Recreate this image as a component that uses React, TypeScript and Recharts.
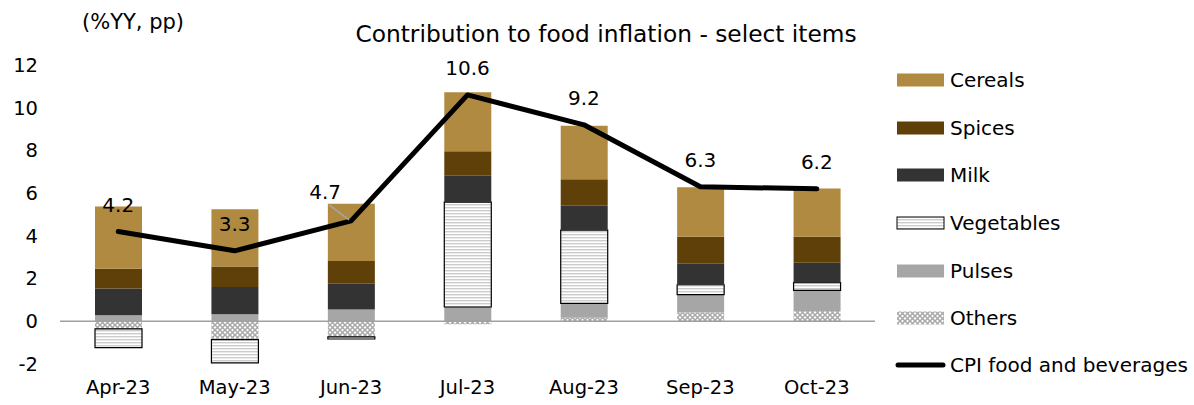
import React from 'react';
import { ComposedChart, Bar, Line, XAxis, YAxis, ReferenceLine, LabelList } from 'recharts';

const months = ['Apr-23', 'May-23', 'Jun-23', 'Jul-23', 'Aug-23', 'Sep-23', 'Oct-23'];
const cereals = [2.91, 2.68, 2.68, 2.76, 2.51, 2.32, 2.26];
const spices = [0.93, 0.97, 1.06, 1.15, 1.24, 1.27, 1.22];
const milk = [1.25, 1.27, 1.21, 1.23, 1.14, 0.98, 0.93];
const vegetables = [-0.87, -1.09, -0.1, 4.91, 3.43, 0.46, 0.36];
const pulses = [0.28, 0.33, 0.55, 0.67, 0.67, 0.84, 0.97];
const others = [-0.36, -0.86, -0.73, -0.14, 0.17, 0.41, 0.48];
const cpi = [4.2, 3.3, 4.7, 10.6, 9.2, 6.3, 6.2];
const yTicks = [-2, 0, 2, 4, 6, 8, 10, 12];

const data = months.map((m, i) => ({
  month: m,
  cereals: cereals[i],
  spices: spices[i],
  milk: milk[i],
  vegetables: vegetables[i],
  pulses: pulses[i],
  others: others[i],
  cpi: cpi[i],
}));

const FONT = "'DejaVu Sans', sans-serif";
const FS = 19.5;

const C_CEREALS = '#AF8A40';
const C_SPICES = '#5E4008';
const C_MILK = '#333333';
const C_PULSES = '#A6A6A6';

const CpiLabel = (props: any) => {
  const { x, y, value, index } = props;
  if (index === 2) {
    return (
      <g>
        <line x1={x - 22} y1={y - 16} x2={x - 2} y2={y - 1} stroke="#A6A6A6" strokeWidth={1.5} />
        <text x={x - 26} y={y - 29} textAnchor="middle" dominantBaseline="central" fontFamily={FONT} fontSize={20} fill="#000">
          {value}
        </text>
      </g>
    );
  }
  return (
    <text x={x} y={y - 27} textAnchor="middle" dominantBaseline="central" fontFamily={FONT} fontSize={20} fill="#000">
      {value}
    </text>
  );
};

const legendItems = [
  { name: 'Cereals', kind: 'fill', color: C_CEREALS },
  { name: 'Spices', kind: 'fill', color: C_SPICES },
  { name: 'Milk', kind: 'fill', color: C_MILK },
  { name: 'Vegetables', kind: 'veg', color: '' },
  { name: 'Pulses', kind: 'fill', color: C_PULSES },
  { name: 'Others', kind: 'oth', color: '' },
  { name: 'CPI food and beverages', kind: 'line', color: '#000' },
];
const legendY = [80, 128, 175, 223, 271, 318, 365];

const Patterns = ({ p }: { p: string }) => (
  <defs>
    <pattern id={p + 'veg'} width="6" height="3" patternUnits="userSpaceOnUse">
      <rect width="6" height="3" fill="#ffffff" />
      <rect y="0" width="6" height="1.4" fill="#cccccc" />
    </pattern>
    <pattern id={p + 'oth'} width="5" height="5" patternUnits="userSpaceOnUse">
      <rect width="5" height="5" fill="#ffffff" />
      <path d="M0,0 L5,5 M5,0 L0,5" stroke="#a8a8a8" strokeWidth="1.5" />
    </pattern>
  </defs>
);

export default function App() {
  return (
    <div style={{ position: 'absolute', left: 0, top: 0, width: 1194, height: 405, background: '#fff', fontFamily: FONT }}>
      <div style={{ position: 'absolute', left: 82, top: 22, transform: 'translateY(-50%)', fontSize: 21, whiteSpace: 'nowrap' }}>
        (%YY, pp)
      </div>
      <div style={{ position: 'absolute', left: 606, top: 33, transform: 'translate(-50%,-50%)', fontSize: 23.3, whiteSpace: 'nowrap' }}>
        Contribution to food inflation - select items
      </div>
      <ComposedChart
        width={1194}
        height={405}
        data={data}
        stackOffset="sign"
        margin={{ top: 65, right: 319, bottom: 0, left: 0 }}
      >
        <Patterns p="c" />
        <XAxis
          dataKey="month"
          axisLine={false}
          tickLine={false}
          height={41}
          tickMargin={10}
          tick={{ fontFamily: FONT, fontSize: FS, fill: '#000' }}
          interval={0}
        />
        <YAxis
          domain={[-2, 12]}
          ticks={yTicks}
          width={60}
          axisLine={false}
          tickLine={false}
          tickMargin={16}
          tick={{ fontFamily: FONT, fontSize: FS, fill: '#000' }}
        />
        <Bar dataKey="others" stackId="a" fill="url(#coth)" barSize={47} isAnimationActive={false} />
        <Bar dataKey="pulses" stackId="a" fill={C_PULSES} barSize={47} isAnimationActive={false} />
        <Bar dataKey="vegetables" stackId="a" fill="url(#cveg)" stroke="#000" strokeWidth={1.2} barSize={47} isAnimationActive={false} />
        <Bar dataKey="milk" stackId="a" fill={C_MILK} barSize={47} isAnimationActive={false} />
        <Bar dataKey="spices" stackId="a" fill={C_SPICES} barSize={47} isAnimationActive={false} />
        <Bar dataKey="cereals" stackId="a" fill={C_CEREALS} barSize={47} isAnimationActive={false} />
        <ReferenceLine y={0} stroke="#A0A0A0" strokeWidth={1.5} />
        <Line
          dataKey="cpi"
          stroke="#000"
          strokeWidth={5}
          dot={false}
          strokeLinejoin="round"
          strokeLinecap="round"
          isAnimationActive={false}
        >
          <LabelList dataKey="cpi" content={CpiLabel} />
        </Line>
      </ComposedChart>
      {legendItems.map((it, i) => (
        <div key={it.name} style={{ position: 'absolute', left: 895, top: legendY[i], transform: 'translateY(-50%)', display: 'flex', alignItems: 'center', whiteSpace: 'nowrap' }}>
          <svg width={52} height={14} style={{ display: 'block' }}>
            <Patterns p={'l' + i} />
            {it.kind === 'fill' && <rect x={2} y={0.5} width={47} height={13} fill={it.color} />}
            {it.kind === 'veg' && <rect x={2} y={1} width={47} height={12} fill={`url(#l${i}veg)`} stroke="#000" strokeWidth={1} />}
            {it.kind === 'oth' && <rect x={2} y={0.5} width={47} height={13} fill={`url(#l${i}oth)`} />}
            {it.kind === 'line' && <line x1={3} y1={7} x2={48} y2={7} stroke="#000" strokeWidth={5} strokeLinecap="round" />}
          </svg>
          <span style={{ fontSize: 20, marginLeft: 3, lineHeight: 1 }}>{it.name}</span>
        </div>
      ))}
    </div>
  );
}
